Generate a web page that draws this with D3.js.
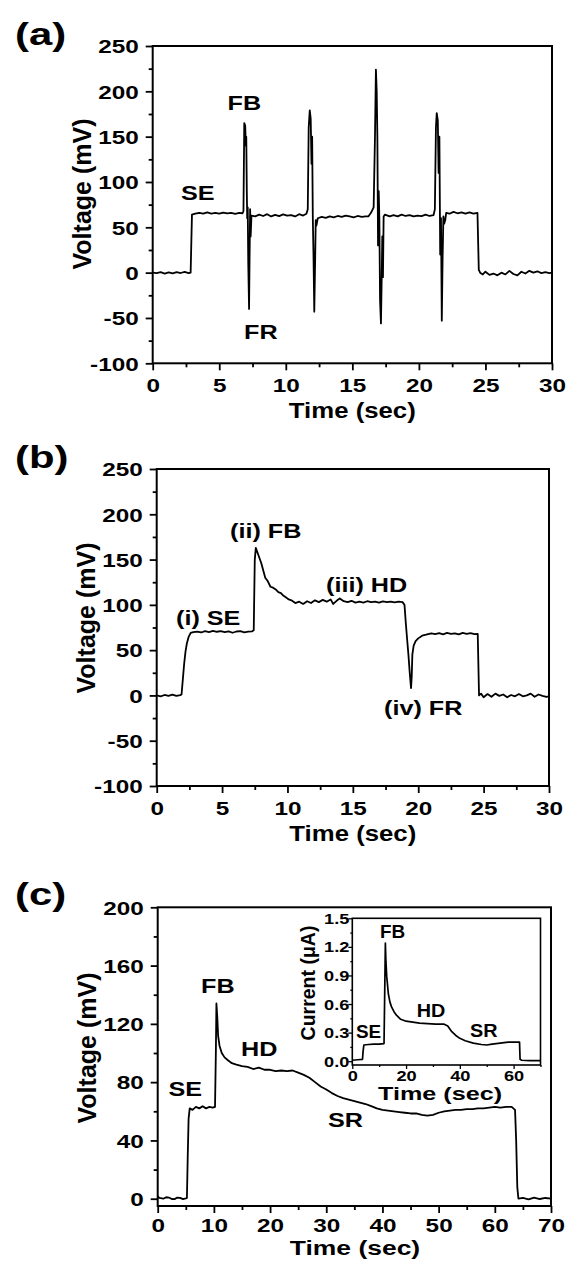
<!DOCTYPE html>
<html><head><meta charset="utf-8">
<script src="https://cdn.jsdelivr.net/npm/d3@7"></script>
<style>
html,body{margin:0;padding:0;background:#fff;}
svg{display:block;}
text{font-family:"Liberation Sans",Arial,Helvetica,sans-serif;font-weight:bold;fill:#000;}
</style>
</head><body>
<svg id="chart" width="568" height="1261"></svg>
<script>
// ---------- DATA ----------
// Panel (a): [time (s), voltage (mV)]
const seriesA = [[0,0],[0.3,-0.5],[0.6,0.5],[0.9,-1],[1.2,0.3],[1.5,-0.8],[1.8,0.6],[2.1,-0.4],[2.4,0.8],[2.7,-0.5],[2.85,0],
[2.95,64],[3.2,65],[3.5,66],[3.8,65],[4.1,66.5],[4.4,65.2],[4.7,66],[5.0,65],[5.3,66.3],[5.6,65.4],[5.9,66],[6.2,64.8],[6.5,66],[6.75,65.5],
[6.82,68],[6.88,165],[6.95,162],[7.0,140],[7.03,150],[7.07,90],[7.1,60],[7.14,72],[7.18,10],[7.24,-40],[7.28,20],[7.32,70],[7.36,40],[7.42,63],
[7.7,62],[8.0,64],[8.3,62.5],[8.6,64.5],[8.9,62],[9.2,63.8],[9.5,62.3],[9.8,64.2],[10.1,62.8],[10.4,63.5],[10.7,62],[11.0,64.5],[11.3,63],[11.55,65],[11.65,70],
[11.72,160],[11.8,179],[11.87,170],[11.93,120],[11.98,150],[12.03,60],[12.08,20],[12.14,-43],[12.2,10],[12.25,58],[12.3,52],[12.4,60],
[12.7,61.5],[13.0,60.5],[13.3,62],[13.6,61],[13.9,62.5],[14.2,61.5],[14.5,63],[14.8,62],[15.1,61],[15.4,62.5],[15.7,61.5],[16.0,62],[16.2,62],[16.4,66],[16.6,72],
[16.7,150],[16.77,224],[16.83,200],[16.88,150],[16.93,30],[16.98,90],[17.03,60],[17.08,-30],[17.15,-56],[17.2,-10],[17.25,40],[17.3,-5],[17.35,62],[17.45,64],
[17.8,62],[18.1,63.5],[18.4,62],[18.7,64],[19.0,62.5],[19.3,63.5],[19.6,62],[19.9,63],[20.2,62.3],[20.5,64],[20.8,62.5],[21.1,63.5],
[21.2,70],[21.28,160],[21.34,176],[21.42,168],[21.48,110],[21.54,150],[21.6,20],[21.66,60],[21.72,-53],[21.78,15],[21.84,62],[21.9,54],[21.98,58],[22.05,66],
[22.3,65],[22.6,67],[22.9,65.5],[23.2,66.5],[23.5,65],[23.8,66.5],[24.1,65],[24.4,66],
[24.5,3],[24.6,0],[24.8,-2],[25.0,1],[25.3,-2.5],[25.6,-1],[25.9,-3],[26.2,0],[26.5,-2],[26.8,2],[27.1,-1.5],[27.4,-3],[27.7,1],[28.0,-1],[28.3,2],[28.6,0],[28.9,1.5],[29.2,-0.5],[29.5,0.5],[29.8,-0.5],[30,0]];

// Panel (b): [time (s), voltage (mV)]
const seriesB = [[0,0],[0.3,-1],[0.6,0.5],[0.9,-0.5],[1.2,0.8],[1.5,-0.6],[1.8,0.3],[1.9,1],[2.0,18],[2.1,35],[2.2,48],[2.3,57],[2.45,65],[2.6,69],[2.8,70],
[3.1,70.5],[3.4,69.5],[3.7,71],[4.0,70],[4.3,71.2],[4.6,70.3],[4.9,71],[5.2,69.8],[5.5,70.8],[5.8,69.2],[6.1,70.6],[6.4,71],[6.7,69.7],[7.0,70.4],[7.3,70.8],
[7.42,72],[7.5,150],[7.58,163],[7.7,158],[7.85,152],[8.0,146],[8.15,138],[8.3,130],[8.5,126],[8.7,120],[8.9,119],[9.1,117],[9.3,114],[9.5,113],[9.7,110],[9.9,108],[10.1,106],[10.3,105],[10.6,102],[10.9,103.5],[11.2,101],[11.5,104],[11.8,102],[12.1,105],[12.4,103],[12.7,105.5],[13.0,103.5],[13.3,106],[13.5,101],[13.8,105],[14.0,107],[14.3,104],[14.6,103],[14.9,104.5],[15.2,102.5],[15.5,103.5],[15.8,102.5],[16.1,104],[16.4,103],[16.7,103.5],[17.0,102.5],[17.3,103.8],[17.6,103],[17.9,103.5],[18.2,102.8],[18.5,103.5],[18.8,103],
[18.95,100],[19.05,80],[19.15,62],[19.25,45],[19.35,25],[19.45,8],[19.5,20],[19.55,45],[19.65,55],[19.8,60],[20.0,63],[20.3,66],[20.6,67],[21.0,68.5],[21.3,67.8],[21.6,68.8],[21.9,67.5],[22.2,69],[22.5,68],[22.8,68.6],[23.1,67.4],[23.4,69],[23.7,68],[24.0,68.8],[24.3,67.6],[24.55,68],
[24.65,0],[24.8,2],[25.0,-2],[25.3,1.5],[25.6,-1.5],[25.9,2],[26.2,-0.5],[26.5,1],[26.8,-2],[27.1,0.5],[27.4,-1],[27.7,1.5],[28.0,-1],[28.3,0],[28.6,2],[28.9,-1.5],[29.2,1],[29.5,-0.5],[29.8,-1.5],[30,-1]];

// Panel (c): [time (s), voltage (mV)]
const seriesC = [[0,1.5],[0.3,0.5],[1,0],[1.5,1],[2,0.8],[2.5,-0.2],[3,-0.3],[3.5,0.8],[4,0.6],[4.5,-0.3],[5,0.2],[5.2,0.5],[5.35,30],[5.5,55],[5.7,62],[6.2,61],[6.8,63],[7.4,62],[8,63.5],[8.6,62],[9.2,63],[9.8,62.5],[10.2,63],
[10.35,100],[10.45,134],[10.6,125],[10.75,112],[11,105],[11.4,100],[11.9,97],[12.5,95],[13.2,93],[14,92],[15,91],[16,90.5],[17,89],[18,90],[19,88.5],[20,88.5],[21,87.5],[22,88],[23,87.5],[24,88],[25,86.5],[26,85],[27,83],[28,80],[29,77],[30,75],[31,72.5],[32,70.5],[33,69],[34,68],[35,67],[36,66],[37,65],[38,63.5],[39,62],[40,61],[41,60.5],[42,60],[43,59.5],[44,59],[45,58.5],[46,58.5],[47,57.5],[48,57],[49,57.5],[50,59],[51,60],[52,60.5],[53,61],[54,61],[55,61.5],[56,61.5],[57,62],[58,62],[59,62.5],[60,63],[61,62.5],[62,63],[63,63],[63.6,61],[63.8,40],[64,8],[64.2,0],[65,0.5],[66,-0.5],[67,0.8],[68,-0.2],[69,0.5],[70,0]];

// Inset of (c): [time (s), current (uA)]
const seriesInset = [[0,0.01],[2,0.015],[3.8,0.02],[4.0,0.1],[4.3,0.17],[6,0.175],[8,0.18],[10,0.18],[11.8,0.185],[12.0,0.6],[12.3,1.24],[12.5,1.05],[12.8,0.89],[13.4,0.71],[14,0.62],[14.6,0.57],[15.5,0.52],[16.5,0.48],[18,0.44],[20,0.42],[22.5,0.41],[25,0.4],[28,0.395],[31,0.39],[34,0.39],[35.5,0.37],[37,0.31],[38.5,0.27],[40,0.24],[42,0.215],[45,0.19],[48,0.175],[50,0.17],[52,0.18],[55,0.19],[58,0.2],[60,0.2],[62.2,0.2],[62.4,0.02],[63,0.01],[66,0.005],[70,0.005]];

// Tick values
const xTicksAB = [0,5,10,15,20,25,30];
const xMinorAB = [2.5,7.5,12.5,17.5,22.5,27.5];
const yTicksAB = [-100,-50,0,50,100,150,200,250];
const yMinorAB = [-75,-25,25,75,125,175,225];
const xTicksC = [0,10,20,30,40,50,60,70];
const xMinorC = [5,15,25,35,45,55,65];
const yTicksC = [0,40,80,120,160,200];
const yMinorC = [20,60,100,140,180];
const xTicksIn = [0,20,40,60];
const xMinorIn = [10,30,50,70];
const yTicksIn = [0,0.3,0.6,0.9,1.2,1.5];
const yMinorIn = [0.15,0.45,0.75,1.05,1.35];

// Text
const xTitle = "Time (sec)";
const yTitle = "Voltage (mV)";
const yTitleIn = "Current (\u03BCA)";

// ---------- DRAW ----------
const svg = d3.select("#chart");
svg.append("rect").attr("width",568).attr("height",1261).attr("fill","#fff");

function txt(str, x, y, size, sx, anchor, rot) {
  return svg.append("text")
    .attr("transform", `translate(${x},${y}) scale(${sx},1)` + (rot ? " rotate(-90)" : ""))
    .attr("font-size", size)
    .attr("text-anchor", anchor || "start")
    .text(str);
}

function panel(c) {
  const x = d3.scaleLinear().domain(c.xd).range([c.x0, c.x1]);
  const y = d3.scaleLinear().domain(c.yd).range([c.y1, c.y0]);
  const g = svg.append("g");
  if (c.bg) g.append("rect").attr("x",c.x0).attr("y",c.y0).attr("width",c.x1-c.x0).attr("height",c.y1-c.y0).attr("fill","#fff");

  // minor ticks
  g.append("g").attr("transform",`translate(0,${c.y1})`)
    .call(d3.axisBottom(x).tickValues(c.xMinor).tickSize(c.minLen).tickSizeOuter(0).tickFormat(""))
    .call(s=>{s.select(".domain").remove(); s.selectAll("line").attr("stroke-width",c.tw);});
  g.append("g").attr("transform",`translate(${c.x0},0)`)
    .call(d3.axisLeft(y).tickValues(c.yMinor).tickSize(c.minLen).tickSizeOuter(0).tickFormat(""))
    .call(s=>{s.select(".domain").remove(); s.selectAll("line").attr("stroke-width",c.tw);});

  // major ticks + labels
  g.append("g").attr("transform",`translate(0,${c.y1})`)
    .call(d3.axisBottom(x).tickValues(c.xTicks).tickSize(c.majLen).tickSizeOuter(0).tickFormat(c.fx))
    .call(s=>{
      s.select(".domain").remove();
      s.selectAll("line").attr("stroke-width",c.tw);
      s.selectAll("text").attr("y",c.xLabY).attr("dy",0).attr("font-size",c.tickFs)
        .attr("transform",`scale(${c.tickSx},1)`);
    });
  g.append("g").attr("transform",`translate(${c.x0},0)`)
    .call(d3.axisLeft(y).tickValues(c.yTicks).tickSize(c.majLen).tickSizeOuter(0).tickFormat(c.fy))
    .call(s=>{
      s.select(".domain").remove();
      s.selectAll("line").attr("stroke-width",c.tw);
      s.selectAll("text").attr("x",-c.yLabGap/c.tickSx).attr("dy","0.36em").attr("font-size",c.tickFs)
        .attr("transform",`scale(${c.tickSx},1)`);
    });

  // curve
  g.append("path").datum(c.data)
    .attr("fill","none").attr("stroke","#000").attr("stroke-width",c.lw)
    .attr("stroke-linejoin","round")
    .attr("d", d3.line().x(d=>x(d[0])).y(d=>y(d[1])));

  // frame
  g.append("rect").attr("x",c.x0).attr("y",c.y0).attr("width",c.x1-c.x0).attr("height",c.y1-c.y0)
    .attr("fill","none").attr("stroke","#000").attr("stroke-width",c.fw);
  return {x,y};
}

const fmtInt = d => String(d);
const fmt1 = d => d.toFixed(1);
const mainStyle = {majLen:7, minLen:4, tw:1.8, fw:2, lw:1.8, tickFs:19, tickSx:1.28, xLabY:29, yLabGap:14};

// (a)
panel(Object.assign({}, mainStyle, {x0:152.7, x1:552, y0:46, y1:363.3, xd:[0,30], yd:[-100,250],
  xTicks:xTicksAB, xMinor:xMinorAB, yTicks:yTicksAB, yMinor:yMinorAB, fx:fmtInt, fy:fmtInt, data:seriesA}));
// (b)
panel(Object.assign({}, mainStyle, {x0:156.7, x1:549, y0:469, y1:786, xd:[0,30], yd:[-100,250],
  xTicks:xTicksAB, xMinor:xMinorAB, yTicks:yTicksAB, yMinor:yMinorAB, fx:fmtInt, fy:fmtInt, data:seriesB}));
// (c)
panel(Object.assign({}, mainStyle, {xLabY:26, x0:157.7, x1:551, y0:907.3, y1:1206, xd:[0,70], yd:[-5,200],
  xTicks:xTicksC, xMinor:xMinorC, yTicks:yTicksC, yMinor:yMinorC, fx:fmtInt, fy:fmtInt, data:seriesC}));
// inset
panel({majLen:4, minLen:2, tw:1.3, fw:1.6, lw:1.7, tickFs:14, tickSx:1.3, xLabY:16.5, yLabGap:3, bg:true,
  x0:352.3, x1:540.5, y0:918.3, y1:1065, xd:[0,70], yd:[-0.04,1.5],
  xTicks:xTicksIn, xMinor:xMinorIn, yTicks:yTicksIn, yMinor:yMinorIn, fx:fmtInt, fy:fmt1, data:seriesInset});

// panel letters
txt("(a)", 15, 45, 31, 1.35);
txt("(b)", 15, 468, 31, 1.35);
txt("(c)", 15, 905, 31, 1.35);

// axis titles
txt(xTitle, 352.3, 418, 23, 1.12, "middle");
txt(xTitle, 352.8, 841, 23, 1.12, "middle");
txt(xTitle, 355, 1255, 21, 1.26, "middle");
txt(yTitle, 90.5, 194, 25, 1, "middle", true);
txt(yTitle, 95, 618, 25, 1, "middle", true);
txt(yTitle, 96, 1048, 25, 1, "middle", true);
txt(xTitle, 440, 1100, 18, 1.4, "middle");
txt(yTitleIn, 314.5, 983, 19.5, 1, "middle", true);

// annotations (a)
txt("SE", 181, 200, 21, 1.2);
txt("FB", 227.5, 110, 21, 1.2);
txt("FR", 244, 339, 21, 1.2);
// annotations (b)
txt("(i) SE", 176, 625, 21, 1.2);
txt("(ii) FB", 230, 538, 21, 1.2);
txt("(iii) HD", 326, 592, 21, 1.2);
txt("(iv) FR", 384, 715, 21, 1.2);
// annotations (c)
txt("FB", 201, 993, 21, 1.2);
txt("HD", 241, 1056, 21, 1.2);
txt("SE", 168.5, 1096, 21, 1.2);
txt("SR", 328, 1127, 21, 1.2);
// annotations inset
txt("FB", 380, 938, 18, 1.05);
txt("HD", 416.7, 1016.5, 18, 1.1);
txt("SE", 356, 1038, 18, 1.05);
txt("SR", 470, 1036.5, 18, 1.1);
</script>
</body></html>
